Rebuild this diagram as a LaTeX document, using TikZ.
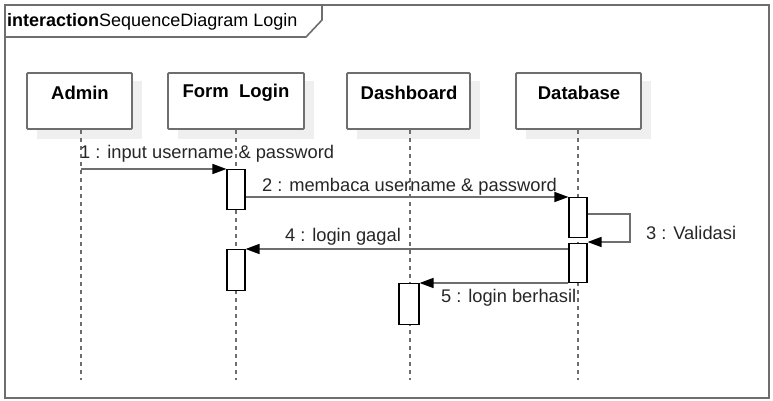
\documentclass[tikz,border=0pt]{standalone}
\usepackage{fontspec}
\setmainfont{Liberation Sans}
\usetikzlibrary{arrows.meta,calc}
\definecolor{lnc}{HTML}{6E6E6E}
\definecolor{shd}{HTML}{EFEFEF}
\tikzset{
  head/.style={draw=lnc,line width=1.8pt,fill=white,minimum width=#1,minimum height=56pt,inner sep=0,rounded corners=1pt},
  headtxt/.style={font=\fontsize{18.5}{20}\selectfont\bfseries,inner sep=0},
  lifeline/.style={draw=lnc,line width=1.6pt,dash pattern=on 4pt off 4pt},
  actbox/.style={draw=black,line width=1.1pt,fill=white,minimum width=18pt,minimum height=#1,inner sep=0},
  msg/.style={draw=lnc,line width=1.6pt,-{Triangle[length=14pt,width=10pt,fill=black,color=black]}},
  msgtxt/.style={font=\fontsize{18.3}{20}\selectfont,inner sep=0,anchor=west,text=black!85},
}
\begin{document}
\begin{tikzpicture}[x=1pt,y=-1pt]
\useasboundingbox (0,0) rectangle (773,400);
% frame
\draw[lnc,line width=1.6pt] (5,5) rectangle (769,398);
\draw[lnc,line width=1.6pt] (5,37) -- (306,37) -- (322,20) -- (322,5);
\node[inner sep=0,anchor=west,font=\fontsize{18}{20}\selectfont] (title) at (7,22) {\textbf{interaction}SequenceDiagram Login};
% shadows
\fill[shd] (37,81) rectangle (142,139);
\fill[shd] (178,81) rectangle (314,139);
\fill[shd] (357,81) rectangle (480,139);
\fill[shd] (526,81) rectangle (651,139);
% heads
\node[head=105pt] (admin) at (79.5,101) {};
\node[head=136pt] (form) at (236,101) {};
\node[head=123pt] (dash) at (408.5,101) {};
\node[head=125pt] (db) at (578.5,101) {};
\node[headtxt] (admint) at (80,93) {Admin};
\node[headtxt] (formt) at (236,93) {Form\ \ Login};
\node[headtxt] (dasht) at (409,93) {Dashboard};
\node[headtxt] (dbt) at (579,93) {Database};
% lifeline ends
\coordinate (adminE) at (81,380);
\coordinate (formE) at (236,380);
\coordinate (dashE) at (410,380);
\coordinate (dbE) at (578,380);
\draw[lifeline] (admin.south -| adminE) -- (adminE);
\draw[lifeline] (form.south -| formE) -- (formE);
\draw[lifeline] (dash.south -| dashE) -- (dashE);
\draw[lifeline] (db.south -| dbE) -- (dbE);
% activations
\node[actbox=40pt,anchor=north] (a1) at (236,169) {};
\node[actbox=40pt,anchor=north] (a2) at (578,197) {};
\node[actbox=39pt,anchor=north] (a3) at (578,243) {};
\node[actbox=41pt,anchor=north] (a4) at (236,249) {};
\node[actbox=41pt,anchor=north,minimum width=20pt] (a5) at (409,283) {};
% messages
\coordinate (m1s) at (81,169);
\draw[msg] (m1s) -- (a1.north west);
\node[msgtxt] (l1) at (80,154) {1 : input username \& password};
\draw[msg] (a1.east |- a2.north) -- (a2.north west);
\node[msgtxt] (l2) at (262,187) {2 : membaca username \& password};
\coordinate (s1) at (630,214);
\coordinate (s2) at (630,242);
\draw[msg] (a2.east |- s1) -- (s1) -- (s2) -- (a3.north east |- s2);
\node[msgtxt] (l3) at (646,233) {3 : Validasi};
\draw[msg] (a3.west |- a4.north) -- (a4.north east);
\node[msgtxt] (l4) at (285,237) {4 : login gagal};
\draw[msg] (a3.west |- a5.north) -- (a5.north east);
\node[msgtxt] (l5) at (441,298) {5 : login berhasil};
\end{tikzpicture}
\end{document}
